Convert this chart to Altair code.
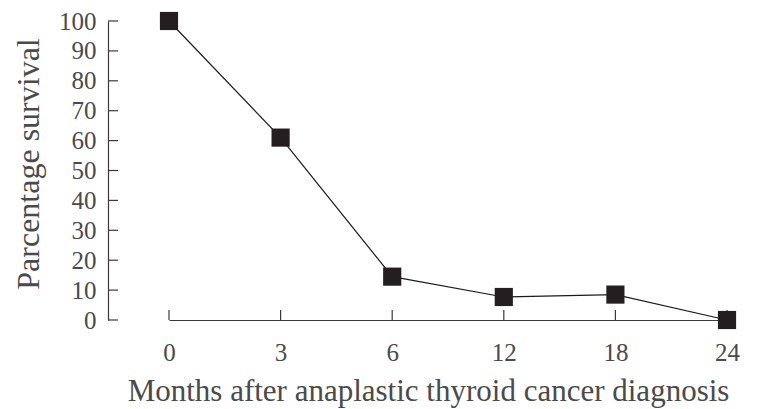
import altair as alt
import pandas as pd

months = ["0", "3", "6", "12", "18", "24"]
survival = [100, 61, 14.5, 7.7, 8.5, 0]
y_ticks = [0, 10, 20, 30, 40, 50, 60, 70, 80, 90, 100]

df = pd.DataFrame({"month": months, "survival": survival})
ytick_df = pd.DataFrame({"survival": y_ticks})
xtick_df = pd.DataFrame({"month": months})

FONT = "Liberation Serif"
TEXT = "#4a4a4a"
AXIS = "#3a3a3a"
X_TITLE = "Months after anaplastic thyroid cancer diagnosis"
Y_TITLE = "Parcentage survival"

xscale = alt.Scale(type="point", domain=months, range=[61, 619], padding=0)
yscale = alt.Scale(domain=[0, 100], nice=False, zero=True)

x_axis = alt.Axis(
    title=X_TITLE, labelAngle=0, labelPadding=20, labelFont=FONT,
    labelFontSize=25, labelColor=TEXT, labelOverlap=False, ticks=False,
    grid=False, domainColor=AXIS, domainWidth=1.2, titleFont=FONT,
    titleFontSize=31, titleFontWeight="normal", titleColor=TEXT,
    titleX=320, titleY=80, titleBaseline="alphabetic", titleAlign="center",
)
y_axis = alt.Axis(
    title=Y_TITLE, values=y_ticks, labelFont=FONT, labelFontSize=25,
    labelColor=TEXT, labelPadding=12, labelOverlap=False, ticks=False,
    grid=False, domainColor=AXIS, domainWidth=1.2, titleFont=FONT,
    titleFontSize=32, titleFontWeight="normal", titleColor=TEXT,
    titleX=-70, titleY=142.5, titleAngle=270,
    titleBaseline="alphabetic", titleAlign="center",
)

x_enc = alt.X("month:O", scale=xscale, sort=months, axis=x_axis)
y_enc = alt.Y("survival:Q", scale=yscale, axis=y_axis)

line = alt.Chart(df).mark_line(color="#1a1a1a", strokeWidth=1.2).encode(
    x=x_enc, y=y_enc
)

yticks = alt.Chart(ytick_df).mark_rule(color=AXIS, strokeWidth=1.2).encode(
    y=y_enc, x=alt.value(0), x2=alt.value(10),
)

xticks = alt.Chart(xtick_df).mark_rule(color=AXIS, strokeWidth=1.2).encode(
    x=x_enc, y=alt.value(289), y2=alt.value(299),
)

points = alt.Chart(df).mark_square(size=330, color="#231f20", opacity=1).encode(
    x=x_enc, y=y_enc,
)

chart = (
    alt.layer(line, yticks, xticks, points)
    .properties(
        width=665, height=299,
        autosize=alt.AutoSizeParams(type="none"),
        padding={"left": 100, "top": 13, "right": 0, "bottom": 88},
    )
    .configure(background="white")
    .configure_view(stroke=None)
)

chart.save("out.html", embed_options={"renderer": "svg", "actions": False})
